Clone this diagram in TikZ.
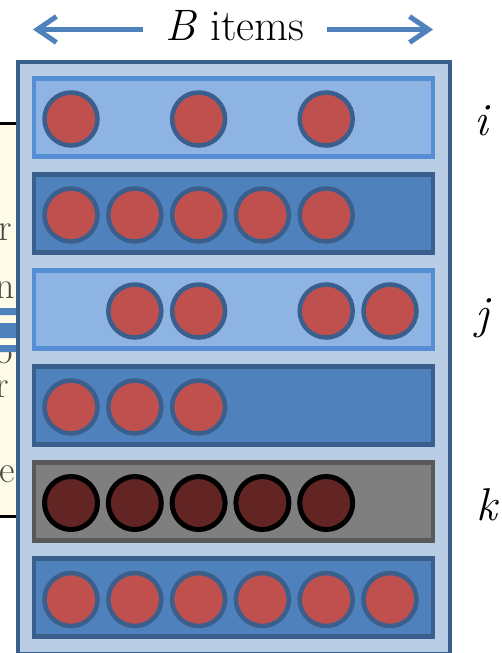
\documentclass[tikz,border=0pt]{standalone}
\usetikzlibrary{arrows.meta}
\definecolor{panelfill}{HTML}{B9CDE5}
\definecolor{darkedge}{HTML}{3A5F8D}
\definecolor{lightfill}{HTML}{8EB4E3}
\definecolor{lightedge}{HTML}{558ED5}
\definecolor{midfill}{HTML}{4F81BD}
\definecolor{greyfill}{HTML}{7F7F7F}
\definecolor{greyedge}{HTML}{595959}
\definecolor{itemred}{HTML}{C0504D}
\definecolor{itemdark}{HTML}{632523}
\definecolor{paper}{HTML}{FEFBE9}
\definecolor{ink}{HTML}{4A4A42}
\tikzset{
  panel/.style={draw=darkedge, fill=panelfill, line width=4.5pt},
  rowbox/.style={rectangle, line width=4.5pt, minimum width=399pt, minimum height=78pt, inner sep=0pt},
  rowlight/.style={rowbox, draw=lightedge, fill=lightfill},
  rowdark/.style={rowbox, draw=darkedge, fill=midfill},
  rowgrey/.style={rowbox, draw=greyedge, fill=greyfill},
  item/.style={circle, minimum size=53pt, inner sep=0pt, line width=4.5pt, draw=darkedge, fill=itemred},
  olditem/.style={item, draw=black, fill=itemdark, line width=5pt},
  rowlabel/.style={anchor=base, inner sep=0pt, font=\fontsize{46}{46}\selectfont\itshape},
  span/.style={draw=midfill, line width=5pt, -{Straight Barb[length=19pt,width=26pt]}},
  glyph/.style={anchor=base east, inner sep=0pt, text height=1ex, text depth=0pt, text=ink, font=\fontsize{38}{38}\selectfont},
}
\begin{document}
\begin{tikzpicture}[x=1pt,y=-1pt]
\useasboundingbox (0,0) rectangle (502,653);

% page behind the buffer, cut off at the left edge
\fill[paper] (0,123) rectangle (18,516);
\begin{scope}
  \clip (0,123) rectangle (16,516);
  \node[glyph] (g1) at (12,240) {r};
  \node[glyph] (g2) at (15,298) {n};
  \node[glyph] (g3) at (13,363) {o};
  \node[glyph] (g4) at (9,397) {r};
  \node[glyph] (g5) at (15,482) {e};
\end{scope}
\draw[line width=3pt] (0,123) -- (18,123) (0,516) -- (18,516);
\fill[midfill] (0,308) rectangle (18,315) (0,323) rectangle (18,338) (0,345) rectangle (18,352);

% the buffer
\draw[panel] (18,62) rectangle (450,654);

\node[rowlight] (r1) at (233.5,117.5) {};
\node[rowdark]  (r2) at (233.5,213.5) {};
\node[rowlight] (r3) at (233.5,309.5) {};
\node[rowdark]  (r4) at (233.5,405.5) {};
\node[rowgrey]  (r5) at (233.5,501.5) {};
\node[rowdark]  (r6) at (233.5,597.5) {};

% items in each row (slot index)
\foreach \s in {0,2,4} \node[item] (a\s) at (71+63.8*\s,119) {};
\foreach \s in {0,...,4} \node[item] (b\s) at (71+63.8*\s,215) {};
\foreach \s in {1,2,4,5} \node[item] (c\s) at (71+63.8*\s,311) {};
\foreach \s in {0,1,2} \node[item] (d\s) at (71+63.8*\s,407) {};
\foreach \s in {0,...,4} \node[olditem] (e\s) at (71+63.8*\s,503) {};
\foreach \s in {0,...,5} \node[item] (f\s) at (71+63.8*\s,599.5) {};

% row labels
\node[rowlabel] (li) at (481,135) {i};
\node[rowlabel] (lj) at (482,328) {j};
\node[rowlabel] (lk) at (487,520) {k};

% width of a row
\node[anchor=base, inner xsep=22pt, inner ysep=0pt, font=\fontsize{44}{44}\selectfont] (title) at (235,40) {\textit{B} items};
\coordinate (lend) at (33,29.5);
\coordinate (rend) at (433,29.5);
\draw[span] (title.west |- lend) -- (lend);
\draw[span] (title.east |- rend) -- (rend);
\end{tikzpicture}
\end{document}
